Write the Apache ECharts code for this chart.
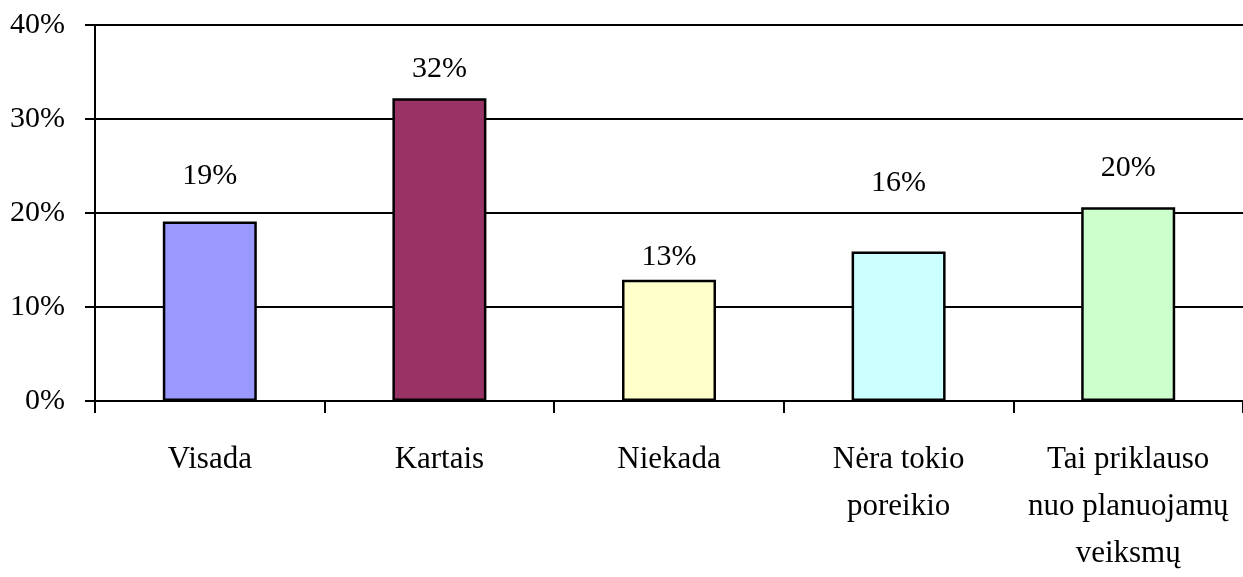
<!DOCTYPE html>
<html>
<head>
<meta charset="utf-8">
<style>
html,body{margin:0;padding:0;background:#fff;}
#chart{width:1243px;height:577px;}
</style>
<script src="https://cdn.jsdelivr.net/npm/echarts@6/dist/echarts.min.js"></script>
</head>
<body>
<div id="chart"></div>
<script>
var categories = ["Visada", "Kartais", "Niekada", "Nėra tokio\nporeikio", "Tai priklauso\nnuo planuojamų\nveiksmų"];
var values = [19.1, 32.2, 12.9, 15.9, 20.6];
var valueLabels = ["19%", "32%", "13%", "16%", "20%"];
var barColors = ["#9999FF", "#993366", "#FFFFCC", "#CCFFFF", "#CCFFCC"];
var labelDistances = [30, 14, 8, 53, 24];
var yTicks = [0, 10, 20, 30, 40];

var FONT = "Liberation Serif";
var chart = echarts.init(document.getElementById('chart'));
chart.setOption({
  animation: false,
  backgroundColor: '#ffffff',
  grid: { left: 95, right: -1, top: 25, bottom: 175, containLabel: false },
  xAxis: {
    type: 'category',
    data: categories,
    axisLine: { show: true, lineStyle: { color: '#000', width: 2 } },
    axisTick: { show: true, alignWithLabel: false, length: 12, lineStyle: { color: '#000', width: 2 } },
    axisLabel: { interval: 0, margin: 35, color: '#000', fontFamily: FONT, fontSize: 31, lineHeight: 47 },
    splitLine: { show: false }
  },
  yAxis: {
    type: 'value',
    min: yTicks[0],
    max: yTicks[yTicks.length - 1],
    interval: 10,
    axisLine: { show: true, lineStyle: { color: '#000', width: 2 } },
    axisTick: { show: true, length: 10, lineStyle: { color: '#000', width: 2 } },
    axisLabel: { margin: 30, color: '#000', fontFamily: FONT, fontSize: 30, formatter: '{value}%', padding: [11, 0, 0, 0] },
    splitLine: { show: true, lineStyle: { color: '#000', width: 2 } }
  },
  series: [{
    type: 'bar',
    barWidth: 94,
    data: values.map(function (v, i) {
      return {
        value: v,
        itemStyle: { color: barColors[i], borderColor: '#000', borderWidth: 2.5 },
        label: {
          show: true, position: 'top', distance: labelDistances[i],
          formatter: valueLabels[i], color: '#000', fontFamily: FONT, fontSize: 30
        }
      };
    })
  }]
});
</script>
</body>
</html>
